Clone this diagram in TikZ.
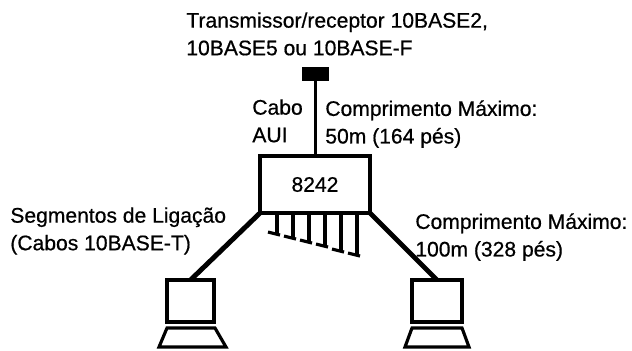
\documentclass[tikz,border=0pt]{standalone}
\usepackage{fontspec}
\setmainfont[FakeBold=0.6]{Liberation Sans}
\begin{document}
\begin{tikzpicture}[
  note/.style={font=\fontsize{12}{15.7}\selectfont,align=left,anchor=north west,inner sep=0pt},
  hubbox/.style={draw,line width=1.8pt,minimum width=2.2cm,minimum height=1.14cm,inner sep=0pt,outer sep=0pt,font=\fontsize{12}{15}\selectfont},
  screen/.style={draw,line width=1.8pt,minimum height=0.84cm,inner sep=0pt,outer sep=0pt},
  keys/.style={line width=1.8pt,line join=miter},
  lnk/.style={line width=2.8pt},
  aui/.style={line width=1.8pt},
  stub/.style={line width=2pt},
  foot/.style={line width=1.8pt}]
\useasboundingbox (0,0) rectangle (12.64,-7);
% transceiver and hub
\node[fill=black,minimum width=0.54cm,minimum height=0.28cm,inner sep=0pt,outer sep=0pt] (trans) at (6.31,-1.48) {};
\node[hubbox] (hub) at (6.3,-3.69) {8242};
\draw[aui,xshift=-0.04cm] (trans) -- (hub.north -| trans);
% computers
\node[screen,minimum width=0.94cm] (monL) at (3.81,-6.02) {};
\node[screen,minimum width=1.0cm] (monR) at (8.74,-6.02) {};
\draw[keys] (3.34,-6.56) -- (4.30,-6.56) -- (4.52,-6.94) -- (3.18,-6.94) -- cycle;
\draw[keys] (8.24,-6.56) -- (9.24,-6.56) -- (9.38,-6.94) -- (8.10,-6.94) -- cycle;
\draw[lnk] (hub.south west) -- (monL.north);
\draw[lnk] (hub.south east) -- (monR.north);
% stubs
\foreach \i/\x/\y in {1/5.54/4.70,2/5.86/4.78,3/6.18/4.86,4/6.50/4.94,5/6.82/5.04,6/7.14/5.12}{
  \coordinate (s\i) at (\x,-\y);
  \draw[stub] (s\i |- hub.south) -- (s\i);
  \draw[foot] ([xshift=-0.18cm,yshift=0.06cm]s\i) -- ([xshift=0.06cm]s\i);
}
% labels
\node[note] (t1) at (3.72,-0.24) {Transmissor/receptor 10BASE2,\\10BASE5 ou 10BASE-F};
\node[note] (t2) at (5.04,-1.98) {Cabo\\AUI};
\node[note] (t3) at (6.5,-2.0) {Comprimento Máximo:\\50m (164 pés)};
\node[note] (t4) at (0.2,-4.14) {Segmentos de Ligação\\(Cabos 10BASE-T)};
\node[note] (t5) at (8.3,-4.26) {Comprimento Máximo:\\100m (328 pés)};
\end{tikzpicture}
\end{document}
